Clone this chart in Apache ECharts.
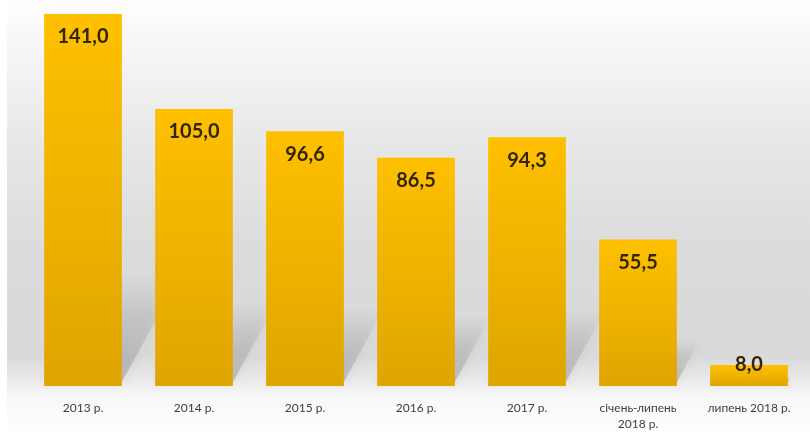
<!DOCTYPE html>
<html>
<head>
<meta charset="utf-8">
<script src="https://cdn.jsdelivr.net/npm/echarts@6/dist/echarts.min.js"></script>
<style>
  html, body { margin: 0; padding: 0; background: #ffffff; }
  #chart { width: 810px; height: 434px; }
</style>
</head>
<body>
<div id="chart"></div>
<script>
// Periods shown on the category axis
const categories = ['2013 р.', '2014 р.', '2015 р.', '2016 р.', '2017 р.', 'січень-липень\n2018 р.', 'липень 2018 р.'];
// Values for each period
const values = [141.0, 105.0, 96.6, 86.5, 94.3, 55.5, 8.0];
// Value labels, with a comma as the decimal separator
const valueLabels = values.map(v => v.toFixed(1).replace('.', ','));

const chart = echarts.init(document.getElementById('chart'), null, { renderer: 'canvas' });

// Soft floor shadow cast up and to the right from each bar's base
function renderShadow(params, api) {
  const idx = api.value(0);
  const val = api.value(1);
  const base = api.coord([idx, 0]);
  const top = api.coord([idx, val]);
  const band = api.size([1, 0])[0];
  const w = band * 0.7;
  const h = base[1] - top[1];
  const dy = h * 0.3;
  const dx = dy * 0.55;
  const xL = base[0] - w / 2;
  const xR = base[0] + w / 2;
  const y0 = base[1] - 4;
  return {
    type: 'polygon',
    shape: { points: [[xL, y0], [xR, y0], [xR + dx, y0 - dy], [xL + dx, y0 - dy]] },
    style: {
      fill: new echarts.graphic.LinearGradient(0, 1, 0, 0, [
        { offset: 0, color: 'rgba(140,140,140,0.45)' },
        { offset: 0.6, color: 'rgba(160,160,160,0.25)' },
        { offset: 1, color: 'rgba(190,190,190,0)' }
      ]),
      shadowBlur: 10,
      shadowColor: 'rgba(150,150,150,0.5)'
    },
    silent: true
  };
}

chart.setOption({
  animation: false,
  graphic: [{
    type: 'rect',
    z: -10,
    silent: true,
    shape: { x: 7, y: 0, width: 803, height: 434 },
    style: {
      fill: new echarts.graphic.LinearGradient(0, 0, 0, 1, [
        { offset: 0.00, color: '#ffffff' },
        { offset: 0.08, color: '#f8f8f8' },
        { offset: 0.35, color: '#e6e6e6' },
        { offset: 0.58, color: '#dbdbdb' },
        { offset: 0.82, color: '#d9d9d9' },
        { offset: 0.88, color: '#ebebeb' },
        { offset: 0.91, color: '#f7f7f9' },
        { offset: 1.00, color: '#ffffff' }
      ])
    }
  }],
  grid: { left: 27.5, right: 5.5, top: 14, bottom: 48 },
  xAxis: {
    type: 'category',
    data: categories,
    axisLine: { show: false },
    axisTick: { show: false },
    axisLabel: {
      interval: 0,
      margin: 14,
      color: '#404040',
      fontFamily: 'Lato',
      fontSize: 12,
      lineHeight: 16
    }
  },
  yAxis: {
    type: 'value',
    min: 0,
    max: 141,
    show: false,
    splitLine: { show: false }
  },
  series: [
    {
      type: 'custom',
      renderItem: renderShadow,
      data: values.map((v, i) => [i, v]),
      encode: { x: 0, y: 1 },
      z: 1,
      silent: true
    },
    {
      type: 'bar',
      z: 2,
      barCategoryGap: '30%',
      data: values.map((v, i) => i === values.length - 1
        ? { value: v, label: { position: 'insideTop', distance: -10 } }
        : v),
      itemStyle: {
        color: new echarts.graphic.LinearGradient(0, 0, 0, 1, [
          { offset: 0, color: '#ffc000' },
          { offset: 1, color: '#dfa500' }
        ])
      },
      label: {
        show: true,
        position: 'insideTop',
        distance: 13,
        color: '#33250a',
        fontFamily: 'Lato',
        fontWeight: 'bold',
        fontSize: 20,
        formatter: p => valueLabels[p.dataIndex]
      }
    }
  ]
});
</script>
</body>
</html>
